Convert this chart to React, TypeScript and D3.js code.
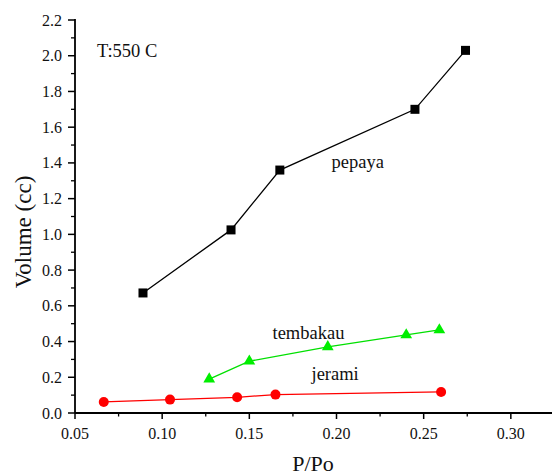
import React from "react";
import * as d3 from "d3";

// Adsorption volume vs relative pressure at T = 550 C
const pepayaX = [0.089, 0.1395, 0.1675, 0.245, 0.274];
const pepayaY = [0.672, 1.025, 1.36, 1.70, 2.03];
const tembakauX = [0.127, 0.150, 0.195, 0.240, 0.259];
const tembakauY = [0.19, 0.29, 0.37, 0.437, 0.465];
const jeramiX = [0.0665, 0.1045, 0.143, 0.165, 0.260];
const jeramiY = [0.062, 0.075, 0.088, 0.103, 0.118];

const xTicks = [0.05, 0.1, 0.15, 0.2, 0.25, 0.3];
const yTicks = [0, 0.2, 0.4, 0.6, 0.8, 1.0, 1.2, 1.4, 1.6, 1.8, 2.0, 2.2];

const W = 552;
const H = 475;
const FONT = "Liberation Serif, Times New Roman, serif";

const x = d3.scaleLinear().domain([0.05, 0.35]).range([75, 598]);
const y = d3.scaleLinear().domain([0, 2.2]).range([413, 20]);

type Pt = [number, number];
const zip = (xs: number[], ys: number[]): Pt[] => xs.map((v, i) => [v, ys[i]]);

const line = d3
  .line<Pt>()
  .x((d) => x(d[0]))
  .y((d) => y(d[1]));

const triangle = d3.symbol().type(d3.symbolTriangle).size(60)() as string;

export default function App() {
  const pepaya = zip(pepayaX, pepayaY);
  const tembakau = zip(tembakauX, tembakauY);
  const jerami = zip(jeramiX, jeramiY);

  const xMinor = d3.range(0.075, 0.35, 0.05);
  const yMinor = d3.range(0.1, 2.2, 0.2);
  const x0 = x(0.05);
  const y0 = y(0);

  return (
    <svg
      width={W}
      height={H}
      style={{ position: "fixed", left: 0, top: 0, background: "#fff", fontFamily: FONT }}
    >
      {/* axes */}
      <line x1={x0} x2={W} y1={y0} y2={y0} stroke="#000" strokeWidth={1.8} />
      <line x1={x0} x2={x0} y1={y(2.2) - 1} y2={y0} stroke="#000" strokeWidth={1.8} />
      {xTicks.map((t) => (
        <g key={"xt" + t}>
          <line x1={x(t)} x2={x(t)} y1={y0} y2={y0 + 6} stroke="#000" strokeWidth={1.5} />
          <text x={x(t)} y={439} fontSize={16} textAnchor="middle" fill="#111">
            {t.toFixed(2)}
          </text>
        </g>
      ))}
      {xMinor.map((t) => (
        <line key={"xm" + t} x1={x(t)} x2={x(t)} y1={y0} y2={y0 + 3.5} stroke="#000" strokeWidth={1.3} />
      ))}
      {yTicks.map((t) => (
        <g key={"yt" + t}>
          <line x1={x0 - 7} x2={x0} y1={y(t)} y2={y(t)} stroke="#000" strokeWidth={1.5} />
          <text x={62} y={y(t) + 5.5} fontSize={16} textAnchor="end" fill="#111">
            {t.toFixed(1)}
          </text>
        </g>
      ))}
      {yMinor.map((t) => (
        <line key={"ym" + t} x1={x0 - 4} x2={x0} y1={y(t)} y2={y(t)} stroke="#000" strokeWidth={1.3} />
      ))}

      {/* axis titles */}
      <text x={313} y={471} fontSize={22} textAnchor="middle" fill="#111">
        P/Po
      </text>
      <text
        transform={`translate(31,232) rotate(-90)`}
        fontSize={23}
        textAnchor="middle"
        fill="#111"
      >
        Volume (cc)
      </text>

      {/* series */}
      <path d={line(pepaya) ?? ""} fill="none" stroke="#000" strokeWidth={1.3} />
      {pepaya.map((d, i) => (
        <rect key={"p" + i} x={x(d[0]) - 4.5} y={y(d[1]) - 4.5} width={9} height={9} fill="#000" />
      ))}

      <path d={line(tembakau) ?? ""} fill="none" stroke="#00e000" strokeWidth={1.3} />
      {tembakau.map((d, i) => (
        <path key={"t" + i} d={triangle} transform={`translate(${x(d[0])},${y(d[1])})`} fill="#00ee00" />
      ))}

      <path d={line(jerami) ?? ""} fill="none" stroke="#ff0000" strokeWidth={1.3} />
      {jerami.map((d, i) => (
        <circle key={"j" + i} cx={x(d[0])} cy={y(d[1])} r={5} fill="#ff0000" />
      ))}

      {/* annotations */}
      <text x={97} y={56.5} fontSize={18.5} fill="#111">T:550 C</text>
      <text x={331.5} y={168} fontSize={18.5} fill="#111">pepaya</text>
      <text x={272.5} y={339} fontSize={18.5} fill="#111">tembakau</text>
      <text x={311.5} y={380} fontSize={18.5} fill="#111">jerami</text>
    </svg>
  );
}
